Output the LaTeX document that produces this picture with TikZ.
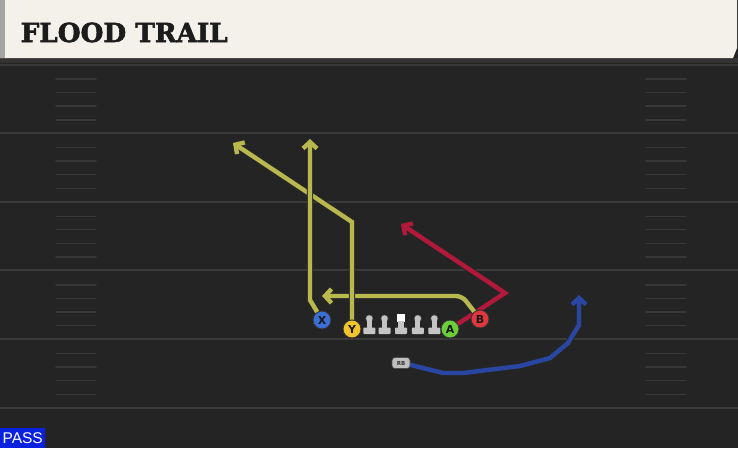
\documentclass[tikz,border=0pt]{standalone}
\usepackage{fontspec}
\setmainfont{DejaVu Serif}
\newfontfamily\titlefont{DejaVu Serif Bold}[FakeBold=2.2]
\newfontfamily\labelfont{DejaVu Sans}
\newfontfamily\passfont{Liberation Sans}
\usetikzlibrary{arrows.meta}
\definecolor{fieldbg}{HTML}{242424}
\definecolor{yardline}{HTML}{3A3A3A}
\definecolor{hashcol}{HTML}{383838}
\definecolor{headbg}{HTML}{F4F1EA}
\definecolor{headstripe}{HTML}{A4A4A4}
\definecolor{titleink}{HTML}{1C1C1C}
\definecolor{rtyellow}{HTML}{B8B84E}
\definecolor{rtred}{HTML}{B2183A}
\definecolor{rtblue}{HTML}{2846A2}
\definecolor{pX}{HTML}{3C6FD6}
\definecolor{pY}{HTML}{F2C42C}
\definecolor{pA}{HTML}{6CCF3A}
\definecolor{pB}{HTML}{E0373F}
\definecolor{lineman}{HTML}{C4C4C4}
\definecolor{passblue}{HTML}{0A22E0}
\tikzset{
  player/.style={circle, draw=black!80, line width=0.9pt, minimum size=18pt, inner sep=0pt,
    font=\labelfont\bfseries\fontsize{11}{11}\selectfont, text=black!90},
  routeout/.style={draw=black!85, line width=6.4pt, line join=miter, -{Straight Barb[length=6.5pt,width=14pt]}},
  routein/.style={line width=4.4pt, line join=miter, -{Straight Barb[length=6.5pt,width=14pt]}},
  yardln/.style={draw=yardline, line width=2pt},
  hashln/.style={draw=hashcol, line width=1.4pt, line cap=round},
}
\begin{document}
\begin{tikzpicture}[x=1pt,y=-1pt]
\useasboundingbox (0,0) rectangle (738,448);
% field
\fill[fieldbg] (0,0) rectangle (738,448);
\fill[black!80] (0,58) rectangle (738,62.5);
% yard lines
\foreach \yy in {64.5,133.1,201.7,270.3,338.9,407.5}
  \draw[yardln] (0,\yy) -- (738,\yy);
% hash marks
\foreach \yy in {64.5,133.1,201.7,270.3,338.9}
  \foreach \off in {14.5,28,41.5,55.3} {
    \draw[hashln] (56,\yy+\off) -- (96,\yy+\off);
    \draw[hashln] (646,\yy+\off) -- (686,\yy+\off);
  }
% header
\fill[headbg] (0,0) -- (737,0) -- (737,48) -- (733,58) -- (0,58) -- cycle;
\fill[headstripe] (0,0) rectangle (5,58);
\node[anchor=base west, inner sep=0pt, text=titleink] (title) at (20.5,42)
  {\titlefont\fontsize{26}{26}\selectfont\resizebox{207pt}{!}{FLOOD TRAIL}};
% waypoints
\coordinate (y1) at (352,222);
\coordinate (y2) at (233,143);
\coordinate (x1) at (310,300);
\coordinate (x2) at (310,139);
\coordinate (b1) at (462,296);
\coordinate (b2) at (322,296);
\coordinate (a1) at (505,293);
\coordinate (a2) at (401,224);
\coordinate (r1) at (411,365);
\coordinate (r2) at (443,373);
\coordinate (r3) at (463,373);
\coordinate (r4) at (520,366);
\coordinate (r5) at (550,358);
\coordinate (r6) at (568,343);
\coordinate (r7) at (579,325);
\coordinate (r8) at (579,295);
% player anchor coordinates
\coordinate (Xc) at (322,320);
\coordinate (Yc) at (352,329);
\coordinate (Ac) at (450,329);
\coordinate (Bc) at (480,319);
\coordinate (RBc) at (401,363);
% routes (outline, then colour)
\draw[routeout] (Ac) -- (a1) -- (a2);
\draw[routein, draw=rtred] (Ac) -- (a1) -- (a2);
\draw[routeout] (RBc) -- (r1) -- (r2) -- (r3) -- (r4) -- (r5) -- (r6) -- (r7) -- (r8);
\draw[routein, draw=rtblue] (RBc) -- (r1) -- (r2) -- (r3) -- (r4) -- (r5) -- (r6) -- (r7) -- (r8);
\draw[routeout, rounded corners=6pt] (Bc) -- (b1) -- (b2);
\draw[routein, draw=rtyellow, rounded corners=6pt] (Bc) -- (b1) -- (b2);
\draw[routeout] (Yc) -- (y1) -- (y2);
\draw[routein, draw=rtyellow] (Yc) -- (y1) -- (y2);
\draw[routeout] (Xc) -- (x1) -- (x2);
\draw[routein, draw=rtyellow] (Xc) -- (x1) -- (x2);
% linemen
\foreach \lx in {369.3,384.5,417.8,434.3} {
  \fill[black!70] (\lx,318.5) circle (4);
  \fill[lineman] (\lx,318.5) circle (3.2);
  \fill[lineman] (\lx-2.6,319) rectangle (\lx+2.6,331);
  \fill[lineman, rounded corners=0.8pt] (\lx-6,327.5) rectangle (\lx+6,334);
}
\fill[white] (397,314) rectangle (405,322);
\fill[lineman] (398.4,321) rectangle (403.6,331);
\fill[lineman, rounded corners=0.8pt] (395,327.5) rectangle (407,334);
% players
\node[player, fill=pX] (X) at (Xc) {X};
\node[player, fill=pY] (Y) at (Yc) {Y};
\node[player, fill=pA] (A) at (Ac) {A};
\node[player, fill=pB] (B) at (Bc) {B};
\node[draw=black!70, fill=black!25, rounded corners=3pt, line width=0.7pt,
  minimum width=18pt, minimum height=11pt, inner sep=0pt,
  font=\labelfont\bfseries\fontsize{5.5}{5.5}\selectfont, text=black!80] (RB) at (RBc) {RB};
% pass tag
\node[fill=passblue, anchor=south west, minimum width=45pt, minimum height=20pt, inner sep=0pt,
  text=white, font=\passfont\fontsize{15.5}{15.5}\selectfont] (pass) at (0,448) {PASS};
\end{tikzpicture}
\end{document}
